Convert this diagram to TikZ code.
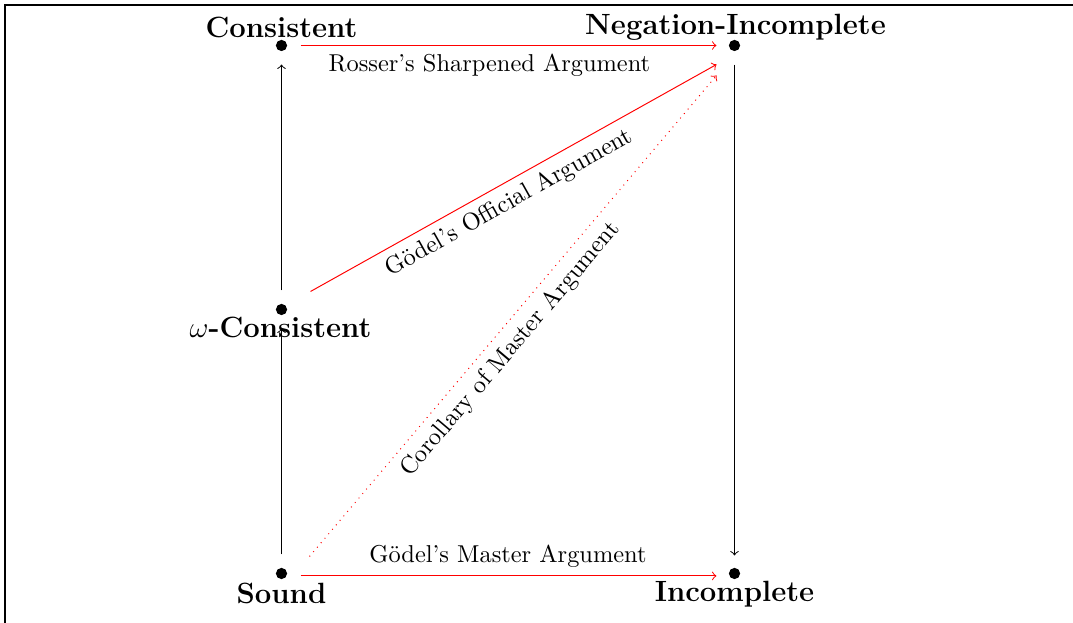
\documentclass[tikz,border=0pt]{standalone}
\usetikzlibrary{calc}
\begin{document}
\begin{tikzpicture}[x=0.4098pt,y=-0.4098pt,
  dot/.style={circle,fill=black,inner sep=0pt,minimum size=4.6pt},
  vlab/.style={font=\large\bfseries,inner sep=0pt,anchor=base},
  blackar/.style={->,draw=black},
  redar/.style={->,draw=red},
  elab/.style={font=\normalsize}]
\useasboundingbox (0,0) rectangle (1073,623);
\draw[line width=0.8pt] (5,623) -- (5,5) -- (1073,5);
\begin{scope}[shift={(0.5,0.5)}]
% vertices
\node[dot] (cons) at (281,45) {};
\node[dot] (neg) at (734,45) {};
\node[dot] (omega) at (281,309) {};
\node[dot] (sound) at (281,573) {};
\node[dot] (inc) at (734,573) {};
% vertex labels
\node[vlab] (consl) at (281,37) {Consistent};
\node[vlab] (negl) at (735,34) {Negation-Incomplete};
\node[vlab] (omegal) at (280,337) {$\omega$-Consistent};
\node[vlab] (soundl) at (281,603) {Sound};
\node[vlab] (incl) at (734,601) {Incomplete};
% connectors
\draw[redar,shorten <=7.8pt,shorten >=7.4pt] (cons.center) -- (neg.center);
\path (cons.center) -- node[below,pos=0.459,elab] (rosser) {Rosser's Sharpened Argument} (neg.center);
\draw[redar,shorten <=7.8pt,shorten >=7.4pt] ([yshift=-1]sound.center) -- ([yshift=-1]inc.center);
\path ([yshift=-1]sound.center) -- node[above,pos=0.5,elab] (master) {Gödel's Master Argument} ([yshift=-1]inc.center);
\draw[blackar,shorten <=7.8pt,shorten >=7.8pt] (omega.center) -- (cons.center);
\draw[blackar,shorten <=7.8pt,shorten >=7.8pt] (sound.center) -- (omega.center);
\draw[blackar,shorten <=7.8pt,shorten >=7.4pt] (neg.center) -- (inc.center);
\draw[redar] ([shift={(29,-18)}]omega.center) -- node[below,sloped,pos=0.466,elab] {Gödel's Official Argument} ([shift={(-18,19)}]neg.center);
\draw[redar,dotted] ([shift={(28,-17)}]sound.center) -- node[below,sloped,pos=0.457,elab] {Corollary of Master Argument} ([shift={(-18,30)}]neg.center);
\end{scope}
\end{tikzpicture}
\end{document}
